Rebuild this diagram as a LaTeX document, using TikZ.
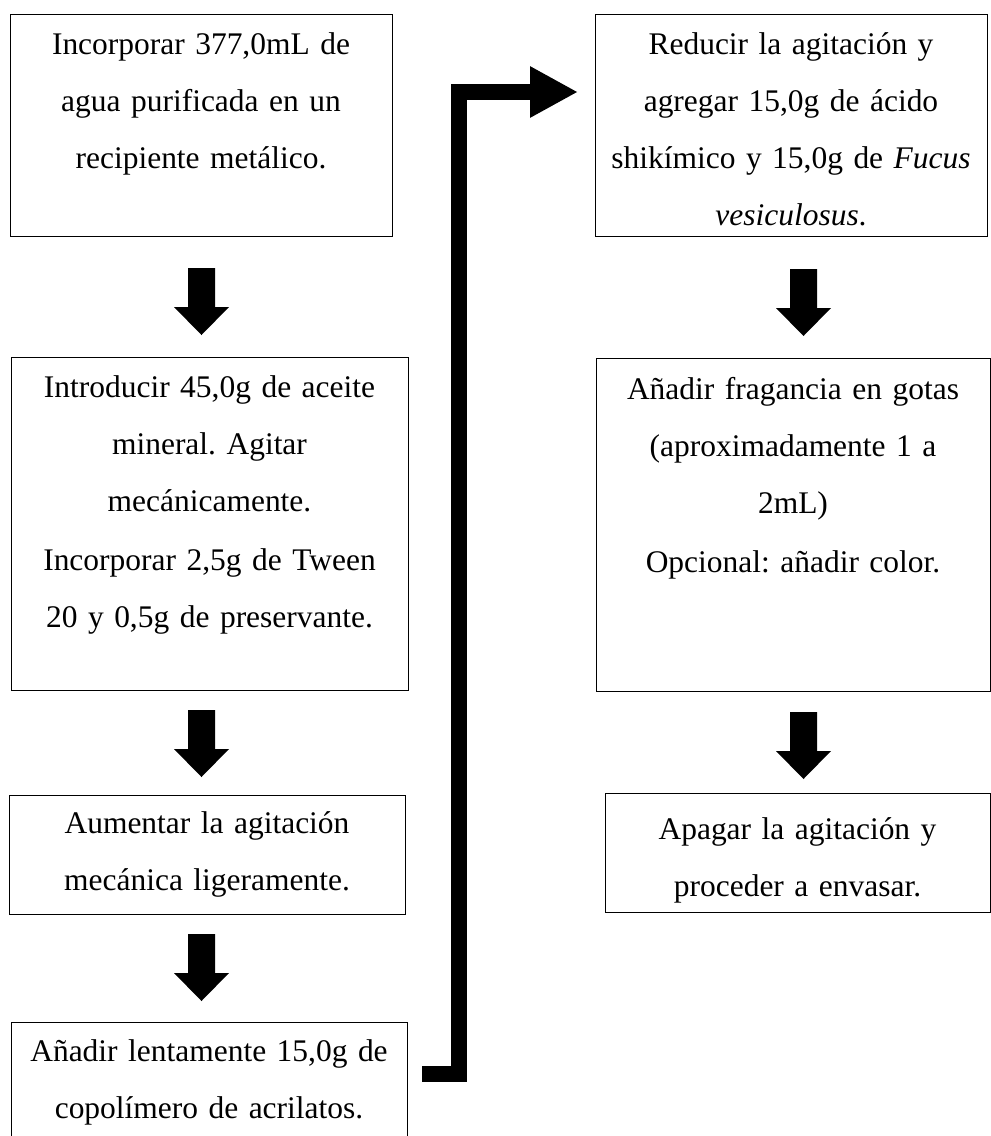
\documentclass[tikz,border=0pt]{standalone}
\usepackage{fontspec}
\setmainfont{Liberation Serif}
\usetikzlibrary{arrows.meta,calc,fit}

\begin{document}
\frenchspacing
\begin{tikzpicture}[x=0.75pt,y=-0.75pt,
  box/.style={draw=black, line width=0.75pt, inner sep=0pt, fit={#1}},
  txt/.style={anchor=base, inner sep=0pt, text width=290pt, align=center,
    font=\fontsize{23.6pt}{42.75pt}\selectfont\frenchspacing},
  downarrow/.pic={\fill[black] (-13.5,0) -- (13.5,0) -- (13.5,39) -- (27.5,39)
    -- (0,67) -- (-27.5,39) -- (-13.5,39) -- cycle;},
  link/.style={line width=12pt, -{Triangle[length=36pt,width=36pt]}}]

\useasboundingbox (0,0) rectangle (991,1136);
\clip (0,0) rectangle (991,1136);

% left column
\node[box={(10,14) (392,236)}] (b1) {};
\node[txt] (t1) at ($(b1.north)+(0,41)$)
  {Incorporar 377,0mL de\\agua purificada en un\\recipiente metálico.};

\node[box={(11,357) (408,690)}] (b2) {};
\node[txt] (t2) at ($(b2.north)+(0,41)$)
  {Introducir 45,0g de aceite\\mineral. Agitar\\mecánicamente.\\[1.5pt]Incorporar 2,5g de Tween\\20 y 0,5g de preservante.};

\node[box={(9,795) (405,914)}] (b3) {};
\node[txt] (t3) at ($(b3.north)+(0,39)$)
  {Aumentar la agitación\\mecánica ligeramente.};

\node[box={(11,1022) (407,1160)}] (b4) {};
\node[txt] (t4) at ($(b4.north)+(0,40)$)
  {Añadir lentamente 15,0g de\\copolímero de acrilatos.};

% right column
\node[box={(595,14) (987,236)}] (r1) {};
\node[txt] (u1) at ($(r1.north)+(0,41)$)
  {Reducir la agitación y\\agregar 15,0g de ácido\\shikímico y 15,0g de \textit{Fucus}\\\textit{vesiculosus}.};

\node[box={(596,358) (990,691)}] (r2) {};
\node[txt] (u2) at ($(r2.north)+(0,42)$)
  {Añadir fragancia en gotas\\(aproximadamente 1 a\\2mL)\\[1.5pt]Opcional: añadir color.};

\node[box={(605,793) (990,912)}] (r3) {};
\node[txt] (u3) at ($(r3.north)+(0,47)$)
  {Apagar la agitación y\\proceder a envasar.};

% block arrows between steps
\coordinate (a1) at (201.5,268);
\coordinate (a2) at (201.5,710);
\coordinate (a3) at (201.5,934);
\coordinate (a4) at (803.5,269);
\coordinate (a5) at (803.5,712);
\pic at (a1) {downarrow};
\pic at (a2) {downarrow};
\pic at (a3) {downarrow};
\pic at (a4) {downarrow};
\pic at (a5) {downarrow};

% thick connector from the last left step to the first right step
\coordinate (s) at (422,1073.5);
\coordinate (k) at (458.5,92);
\coordinate (e) at (578,92);
\draw[link] (s) -| (k) -- (e);
\end{tikzpicture}
\end{document}
